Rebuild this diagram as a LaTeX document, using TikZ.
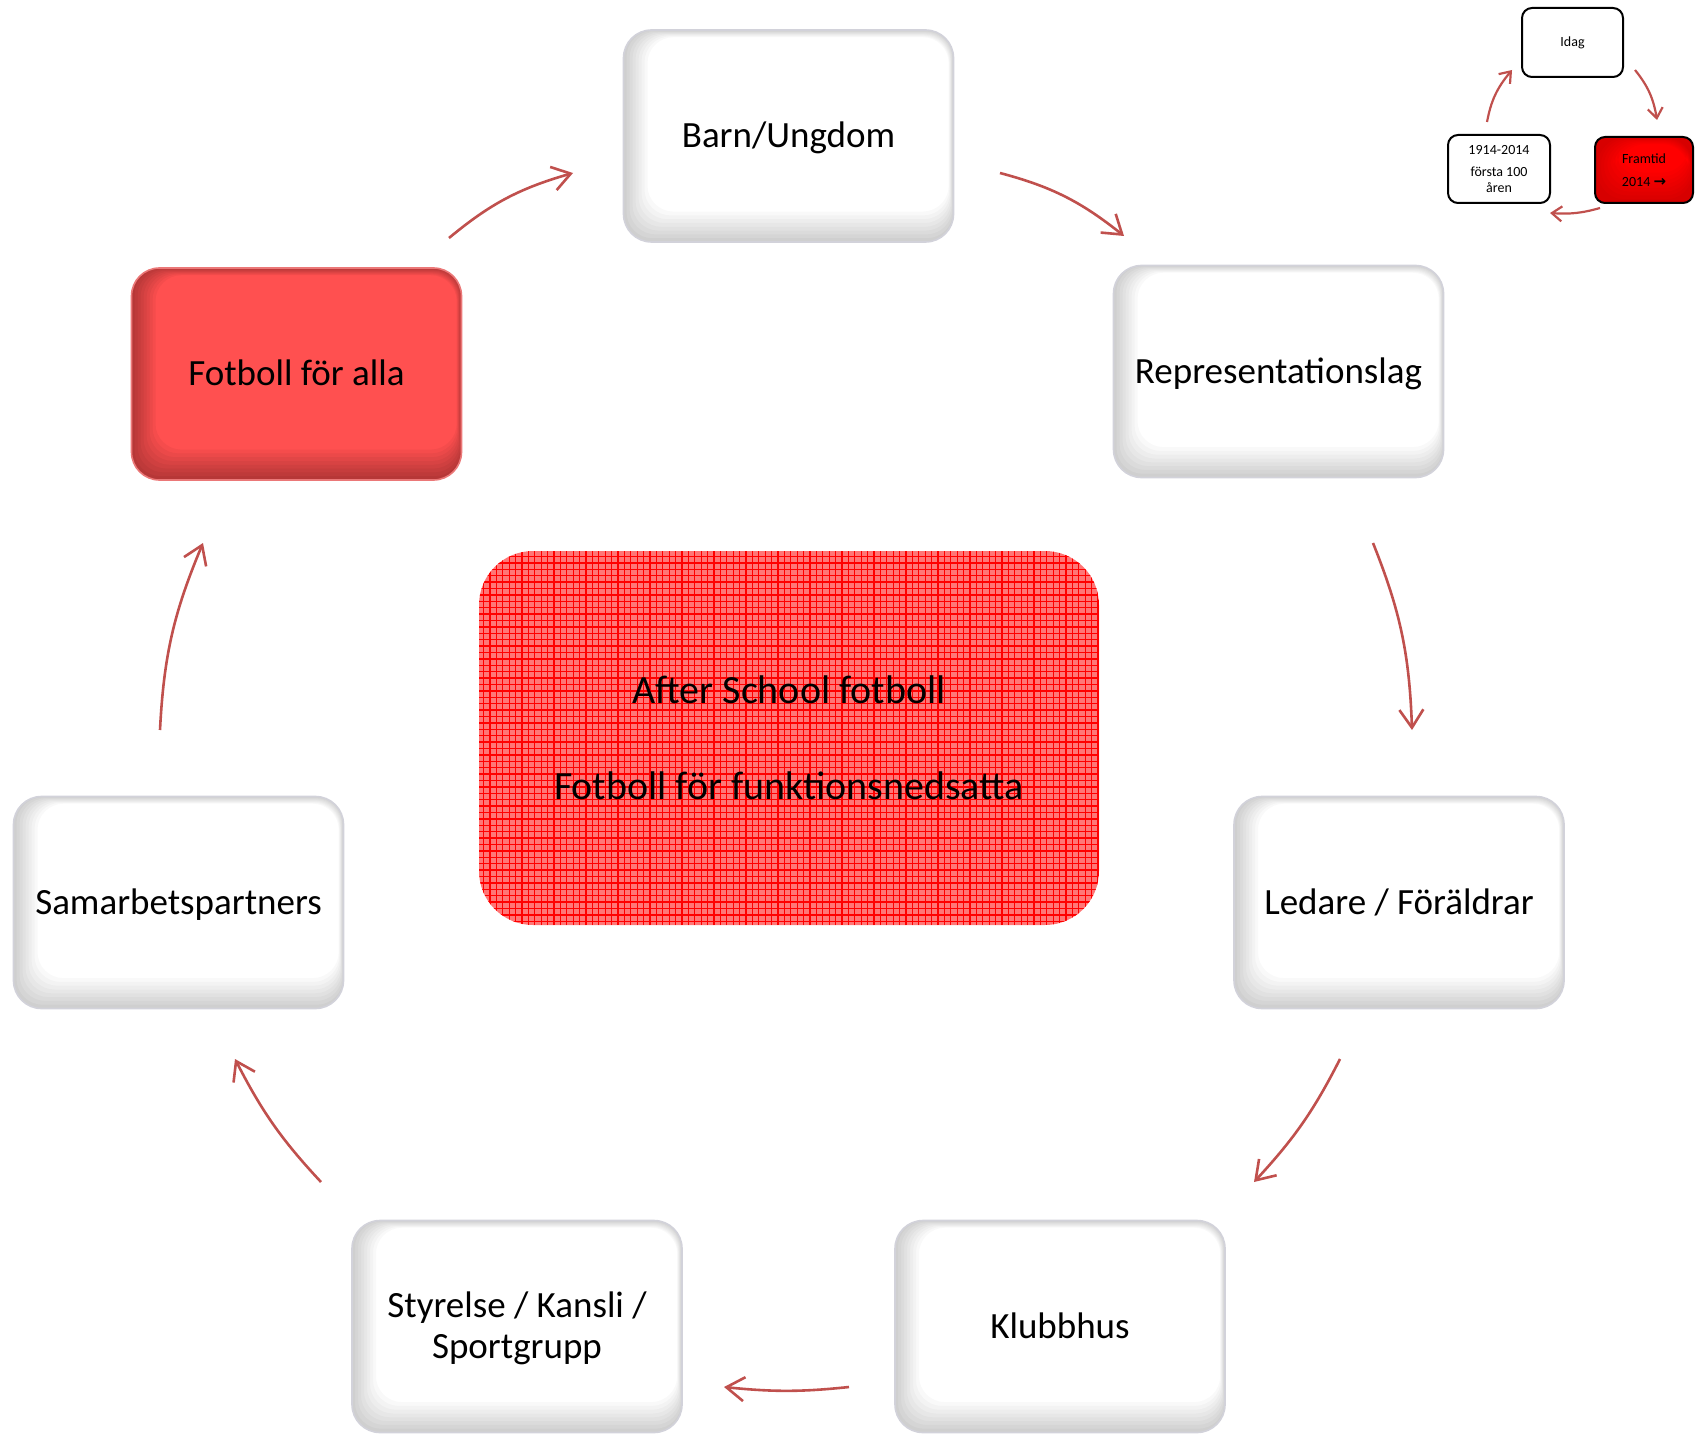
\documentclass[tikz,border=0pt]{standalone}
\usepackage{fontspec}
\setmainfont{Carlito}
\newfontfamily\dejavu{DejaVu Sans}
\usetikzlibrary{arrows.meta,bending}
\definecolor{arrowred}{RGB}{192,80,77}
\definecolor{boxred}{RGB}{255,80,80}
\definecolor{boxline}{RGB}{210,210,218}
\definecolor{patbase}{RGB}{255,118,118}
\definecolor{redline}{RGB}{235,120,120}
\begin{document}
\begin{tikzpicture}[x=0.5pt,y=-0.5pt,
 bevel/.style={path picture={
   \foreach \d in {1,...,8}{
    \fill[black, opacity=#1, even odd rule]
      ([shift={(-20pt,-20pt)}]path picture bounding box.south west) rectangle ([shift={(20pt,20pt)}]path picture bounding box.north east)
      [rounded corners=13pt] ([shift={(\d*1.5pt,\d*1.9pt)}]path picture bounding box.south west) rectangle ([shift={(-\d*0.3pt,-\d*0.45pt)}]path picture bounding box.north east);
   }}},
 bigbox/.style={rounded corners=14pt, minimum width=165pt, minimum height=106pt, inner sep=0pt, align=center, font=\fontsize{18.5}{20.5}\selectfont, line width=0.8pt, text height=15pt, text depth=3.1pt},
 whitebox/.style={bigbox, draw=boxline, fill=white, bevel=0.024},
 redbox/.style={bigbox, draw=redline, fill=boxred, bevel=0.04},
 flow/.style={draw=arrowred, line width=1.3pt, -{Straight Barb[length=9pt,width=12pt]}},
 miniflow/.style={draw=arrowred, line width=1.1pt, -{Straight Barb[length=5pt,width=7.5pt]}},
 minibox/.style={draw=black, line width=1pt, rounded corners=5pt, inner sep=0pt, align=center, font=\fontsize{7}{8.2}\selectfont}
]
\useasboundingbox (0,0) rectangle (1695,1433);

% main cycle boxes
\node[whitebox] (barn) at (788.5,136) {Barn/Ungdom};
\node[whitebox] (repr) at (1278.5,371.5) {Representationslag};
\node[whitebox] (ledare) at (1399,902.5) {Ledare / Föräldrar};
\node[whitebox] (klubb) at (1060,1326.5) {Klubbhus};
\node[whitebox, text height=35.5pt, text depth=3.1pt] (styr) at (517,1326.5) {Styrelse / Kansli /\\Sportgrupp};
\node[whitebox] (samarb) at (178.5,902.5) {Samarbetspartners};
\node[redbox] (alla) at (296.5,374) {Fotboll för alla};

% centre box
\node[fill=patbase, rounded corners=27pt, minimum width=310pt, minimum height=187pt, inner sep=0pt,
  path picture={\draw[red, line width=0.65pt, step=3.2pt] (path picture bounding box.south west) grid (path picture bounding box.north east);},
  font=\fontsize{20}{48}\selectfont, align=center] (center) at (789,738) {After School fotboll\\Fotboll för funktionsnedsatta};

% arrow end points
\coordinate (a1s) at (449,238); \coordinate (a1e) at (573,173);
\coordinate (a2s) at (1000,173); \coordinate (a2e) at (1124,236);
\coordinate (a3s) at (1373,543); \coordinate (a3e) at (1412,730);
\coordinate (a4s) at (1340,1059); \coordinate (a4e) at (1254,1182);
\coordinate (a5s) at (849,1387); \coordinate (a5e) at (724,1387);
\coordinate (a6s) at (321,1182); \coordinate (a6e) at (235,1059);
\coordinate (a7s) at (160,730); \coordinate (a7e) at (203,543);

\draw[flow] (a1s) to[bend left=12] (a1e);
\draw[flow] (a2s) to[bend left=12] (a2e);
\draw[flow] (a3s) to[bend left=10] (a3e);
\draw[flow] (a4s) to[bend left=8] (a4e);
\draw[flow] (a5s) to[bend left=6] (a5e);
\draw[flow] (a6s) to[bend left=8] (a6e);
\draw[flow] (a7s) to[bend left=10] (a7e);

% mini diagram
\node[minibox, fill=white, minimum width=50.5pt, minimum height=34.5pt] (idag) at (1572.5,42.5) {Idag};
\node[minibox, fill=white, minimum width=51pt, minimum height=34pt] (hist) at (1499,169) {1914-2014\\[3pt]första 100\\åren};
\node[minibox, fill=red, bevel=0.018, minimum width=49pt, minimum height=33pt] (framtid) at (1644,170) {Framtid\\[3pt]2014 {\dejavu\fontsize{7.5}{8}\selectfont\bfseries →}};

\coordinate (m1s) at (1487,122); \coordinate (m1e) at (1512,70);
\coordinate (m2s) at (1635,70); \coordinate (m2e) at (1657,120);
\coordinate (m3s) at (1600,208); \coordinate (m3e) at (1550,213);
\draw[miniflow] (m1s) to[bend left=15] (m1e);
\draw[miniflow] (m2s) to[bend left=15] (m2e);
\draw[miniflow] (m3s) to[bend left=10] (m3e);
\end{tikzpicture}
\end{document}
